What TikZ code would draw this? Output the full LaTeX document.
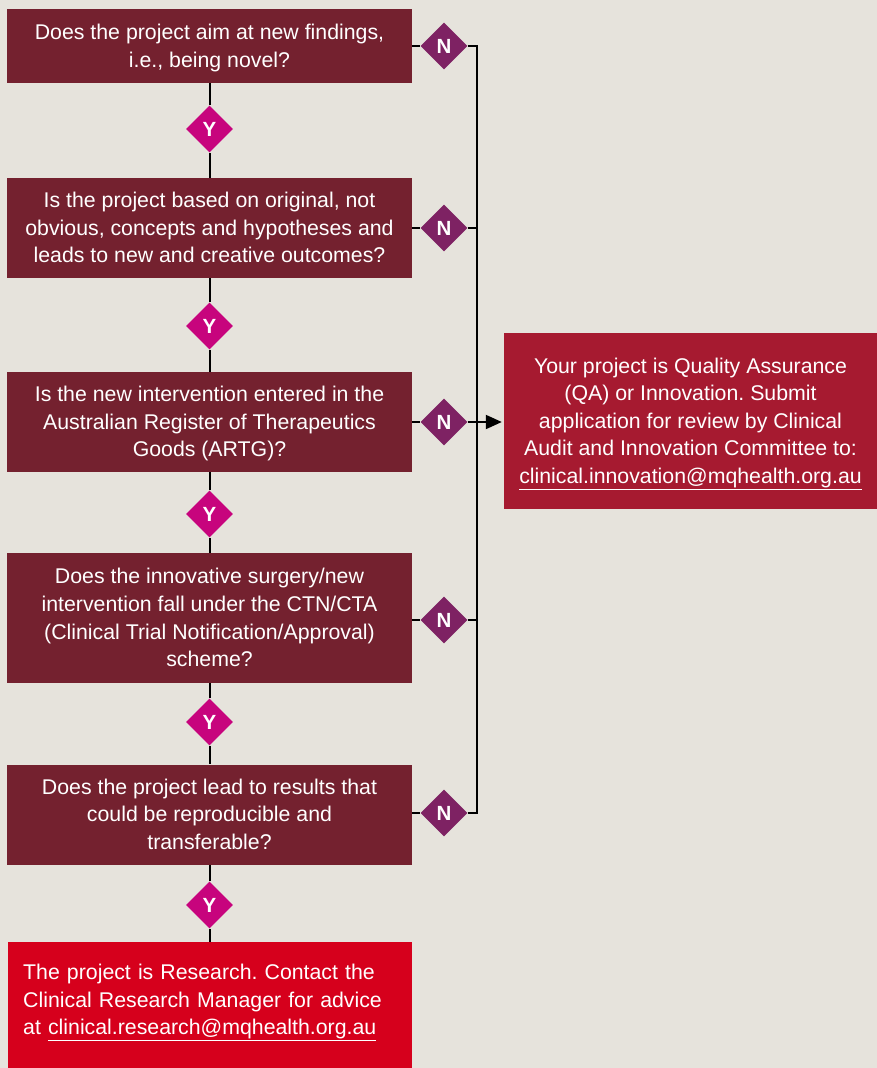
\documentclass[tikz,border=0pt]{standalone}
\usepackage{fontspec}
\setmainfont{Liberation Sans}
\usetikzlibrary{shapes.geometric,arrows.meta}
\definecolor{bg}{HTML}{E6E3DC}
\definecolor{qcol}{HTML}{74212F}
\definecolor{ncol}{HTML}{7E2263}
\definecolor{ycol}{HTML}{C7047D}
\definecolor{qacol}{HTML}{A61A30}
\definecolor{rescol}{HTML}{D6001C}
\frenchspacing
\newcommand{\myTopStrut}{\rule{0pt}{21.5pt}}
\newcommand{\myBotStrut}{\rule[-7pt]{0pt}{7pt}}
\begin{document}
\begin{tikzpicture}[x=1pt,y=-1pt,
  qbox/.style={rectangle, fill=qcol, text=white, minimum width=405pt, inner sep=0pt,
    align=center, font=\fontsize{21.3}{27.6}\selectfont},
  dmd/.style={diamond, aspect=1, minimum width=47pt, minimum height=47pt, inner sep=0pt,
    text=white, font=\fontsize{20.5}{22}\selectfont\bfseries},
  ndmd/.style={dmd, fill=ncol},
  ydmd/.style={dmd, fill=ycol},
  conn/.style={draw=black, line width=2pt}
]
\fill[bg] (0,0) rectangle (877,1068);
\useasboundingbox (0,0) rectangle (877,1068);

% question boxes
\node[qbox, minimum height=74pt] (b1) at (209.5,46) {\myTopStrut Does the project aim at new findings,\\ i.e., being novel?\myBotStrut};
\node[qbox, minimum height=100pt] (b2) at (209.5,228) {\myTopStrut Is the project based on original, not\\ obvious, concepts and hypotheses and\\ leads to new and creative outcomes?\myBotStrut};
\node[qbox, minimum height=100pt] (b3) at (209.5,422) {\myTopStrut Is the new intervention entered in the\\ Australian Register of Therapeutics\\ Goods (ARTG)?\myBotStrut};
\node[qbox, minimum height=130pt] (b4) at (209.5,618) {\myTopStrut Does the innovative surgery/new\\ intervention fall under the CTN/CTA\\ (Clinical Trial Notification/Approval)\\ scheme?\myBotStrut};
\node[qbox, minimum height=100pt] (b5) at (209.5,814.5) {\myTopStrut Does the project lead to results that\\ could be reproducible and\\ transferable?\myBotStrut};

% result boxes
\node[rectangle, fill=rescol, minimum width=404pt, minimum height=127pt, inner sep=0pt, anchor=north west] (res) at (8,942) {};
\node[anchor=north west, text=white, text width=385pt, align=left, inner sep=0pt,
  font=\fontsize{21.3}{27.7}\selectfont] (restext) at ([xshift=15pt,yshift=-21.8pt]res.north west)
  {The project is Research. Contact the\\ Clinical Research Manager for advice\\ at \underline{clinical.research@mqhealth.org.au}};

\node[rectangle, fill=qacol, text=white, minimum width=373pt, minimum height=176pt, inner sep=0pt,
  align=center, font=\fontsize{21.3}{27.6}\selectfont] (qa) at (690.5,421)
  {\myTopStrut Your project is Quality Assurance\\ (QA) or Innovation. Submit\\ application for review by Clinical\\ Audit and Innovation Committee to:\\ \underline{clinical.innovation@mqhealth.org.au}\myBotStrut};

% Y diamonds
\node[ydmd] (y1) at (209.5,129) {Y};
\node[ydmd] (y2) at (209.5,326) {Y};
\node[ydmd] (y3) at (209.5,514) {Y};
\node[ydmd] (y4) at (209.5,722) {Y};
\node[ydmd] (y5) at (209.5,905) {Y};

% N diamonds
\node[ndmd] (n1) at (444,46) {N};
\node[ndmd] (n2) at (444,228) {N};
\node[ndmd] (n3) at (444,422) {N};
\node[ndmd] (n4) at (444,620) {N};
\node[ndmd] (n5) at (444,813) {N};

% bus coordinates
\coordinate (t1) at (477,46);
\coordinate (t2) at (477,228);
\coordinate (t3) at (477,422);
\coordinate (t4) at (477,620);
\coordinate (t5) at (477,813);

% Y connectors
\draw[conn] (b1.south) -- (y1.north);
\draw[conn] (y1.south) -- (b2.north);
\draw[conn] (b2.south) -- (y2.north);
\draw[conn] (y2.south) -- (b3.north);
\draw[conn] (b3.south) -- (y3.north);
\draw[conn] (y3.south) -- (b4.north);
\draw[conn] (b4.south) -- (y4.north);
\draw[conn] (y4.south) -- (b5.north);
\draw[conn] (b5.south) -- (y5.north);
\draw[conn] (y5.south) -- (res.north -| y5);

% N connectors
\foreach \i in {1,...,5}{
  \draw[conn] (b\i.east |- n\i) -- (n\i.west);
  \draw[conn] (n\i.east) -- (t\i);
}
\draw[conn, line cap=rect] (t1) -- (t5);
\draw[conn, -{Triangle[length=16pt,width=14pt]}, shorten >=2pt] (t3) -- (qa.west |- t3);
\end{tikzpicture}
\end{document}
